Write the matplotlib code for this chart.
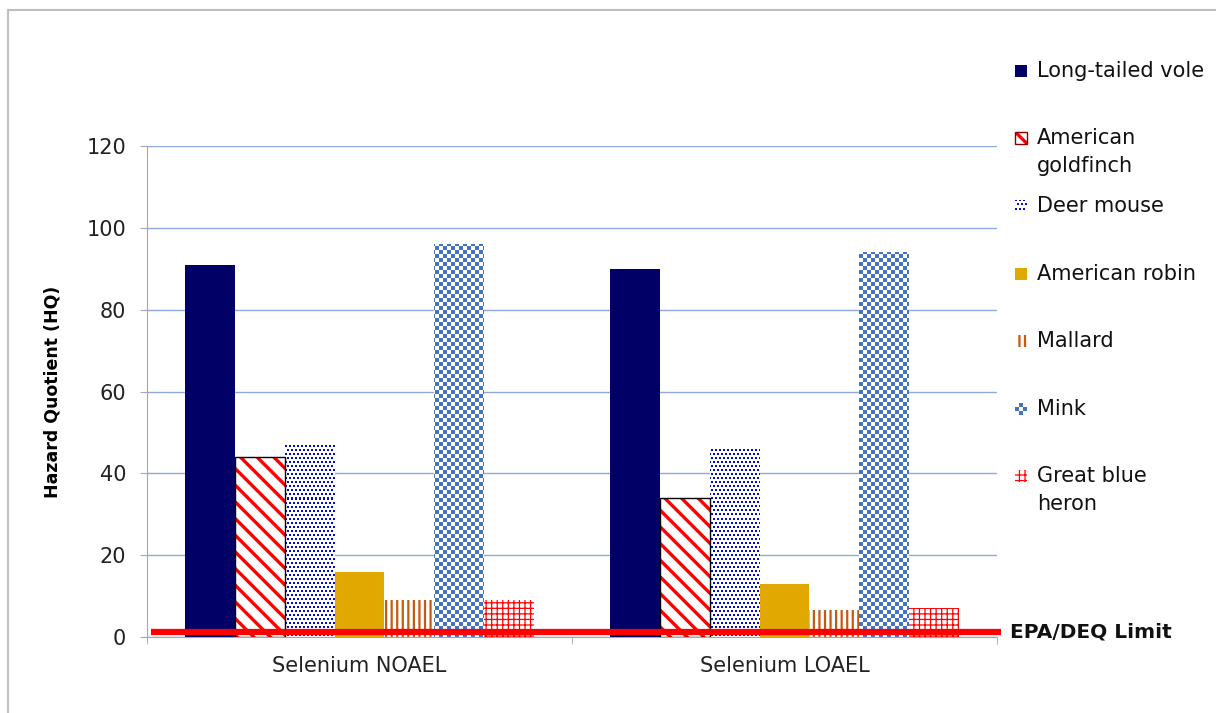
import numpy as np
import matplotlib
matplotlib.use("Agg")
import matplotlib.pyplot as plt
from matplotlib.patches import Rectangle
from matplotlib.colors import ListedColormap

# hazard quotients per receptor, for the two selenium benchmarks
groups = ["Selenium NOAEL", "Selenium LOAEL"]
species = ["Long-tailed vole", "American\ngoldfinch", "Deer mouse", "American robin",
           "Mallard", "Mink", "Great blue\nheron"]
vole = [91, 90]
goldfinch = [44, 34]
deer_mouse = [47, 46]
robin = [16, 13]
mallard = [9, 6.6]
mink = [96, 94]
heron = [9, 7]
epa_limit = 1.3

series = [vole, goldfinch, deer_mouse, robin, mallard, mink, heron]

# (face, hatch, hatch colour, hatch linewidth, outline); None hatch + "img" uses a bitmap fill
styles = [
    dict(fc="#000066", hatch=None, hc=None, lw=0, edge=None, img=None),
    dict(fc="white", hatch="\\\\", hc="#FF0000", lw=2.4, edge="black", img=None),
    dict(fc="white", hatch=None, hc=None, lw=0, edge=None, img="dots"),
    dict(fc="#E0A800", hatch=None, hc=None, lw=0, edge=None, img=None),
    dict(fc="white", hatch="|||", hc="#C55A11", lw=1.6, edge=None, img=None),
    dict(fc="white", hatch=None, hc=None, lw=0, edge=None, img="checker"),
    dict(fc="white", hatch="+++", hc="#FF0000", lw=0.9, edge=None, img=None),
]

plt.rcParams["font.family"] = ["DejaVu Sans"]

fig = plt.figure(figsize=(12.16, 7.13), dpi=100)
ax = fig.add_axes([147 / 1216, 1 - 637 / 713, 850 / 1216, 491 / 713])

x = np.arange(len(groups))
width = 0.1176
offsets = (np.arange(len(series)) - (len(series) - 1) / 2) * width

# bitmap fills, one array cell per screen pixel of the axes
rows, cols = 491, 850
r = np.arange(rows)[:, None]
c = np.arange(cols)[None, :]
checker = (((r // 4) + (c // 4)) % 2).astype(float)
shift = np.where((r // 4) % 2 == 0, 0, 2)
dots = (((r % 4) < 2) & (((c + shift) % 4) < 2)).astype(float)
fills = {
    "checker": (checker, ListedColormap(["white", "#4472C4"])),
    "dots": (dots, ListedColormap(["white", "#0010C8"])),
}

for i, (vals, st) in enumerate(zip(series, styles)):
    if st["hatch"]:
        with plt.rc_context({"hatch.linewidth": st["lw"]}):
            bars = ax.bar(x + offsets[i], vals, width, color=st["fc"], hatch=st["hatch"],
                          edgecolor=st["hc"], linewidth=0, zorder=3)
    else:
        bars = ax.bar(x + offsets[i], vals, width, color=st["fc"], linewidth=0, zorder=3)
    if st["edge"]:
        ax.bar(x + offsets[i], vals, width, fill=False, edgecolor=st["edge"],
               linewidth=1.0, zorder=4)
    if st["img"]:
        arr, cmap = fills[st["img"]]
        for b in bars:
            im = ax.imshow(arr, cmap=cmap, extent=(-0.5, 1.5, 0, 120), vmin=0, vmax=1,
                           aspect="auto", interpolation="nearest", zorder=3.5)
            im.set_clip_path(b)

# regulatory limit line
ax.plot([-0.49, 1.51], [epa_limit, epa_limit], color="#FF0000", lw=4.5,
        solid_capstyle="butt", clip_on=False, zorder=6)
ax.text(1.53, epa_limit, "EPA/DEQ Limit", fontsize=14.5, fontweight="bold",
        va="center", ha="left", color="#111111")

ax.set_xlim(-0.5, 1.5)
ax.set_ylim(0, 120)
ax.set_yticks(range(0, 121, 20))
ax.tick_params(axis="y", labelsize=15, length=5, color="#A6A6A6", pad=10,
               labelcolor="#222222")
ax.set_xticks(x)
ax.set_xticklabels(groups)
ax.tick_params(axis="x", which="major", length=0, labelsize=15, pad=14,
               labelcolor="#222222")
ax.set_xticks([-0.5, 0.5, 1.5], minor=True)
ax.tick_params(axis="x", which="minor", length=5, color="#A6A6A6")

ax.grid(axis="y", color="#8EA9DB", lw=1.0, zorder=0)
ax.set_axisbelow(True)
for side in ["top", "right"]:
    ax.spines[side].set_visible(False)
for side in ["left", "bottom"]:
    ax.spines[side].set_color("#A6A6A6")

ax.set_ylabel("Hazard Quotient (HQ)", fontsize=12.5, fontweight="bold")
ax.yaxis.set_label_coords(-0.10, 0.5)

# legend built by hand so each swatch sits next to the first text line
W, H = 1216.0, 713.0
leg_y = [71, 138, 206, 274, 341, 409, 476]
sq = 12
for (label, st, yy) in zip(species, styles, leg_y):
    yc = 1 - yy / H
    box = (1015 / W, yc - sq / 2 / H)
    kw = dict(transform=fig.transFigure, zorder=5)
    if st["img"]:
        arr, cmap = fills[st["img"]]
        sw = fig.add_axes([box[0], box[1], sq / W, sq / H])
        sw.imshow(arr[:sq, :sq], cmap=cmap, vmin=0, vmax=1, interpolation="nearest",
                  aspect="auto")
        sw.axis("off")
    elif st["hatch"]:
        with plt.rc_context({"hatch.linewidth": st["lw"]}):
            fig.add_artist(Rectangle(box, sq / W, sq / H, facecolor=st["fc"],
                                     hatch=st["hatch"], edgecolor=st["hc"],
                                     linewidth=0, **kw))
        if st["edge"]:
            fig.add_artist(Rectangle(box, sq / W, sq / H, fill=False,
                                     edgecolor="#8B0000", linewidth=1.0, **kw))
    else:
        fig.add_artist(Rectangle(box, sq / W, sq / H, facecolor=st["fc"], linewidth=0, **kw))
    fig.text(1037 / W, yc + 10 / H, label, fontsize=15, va="top", ha="left",
             linespacing=1.5, color="#111111")

# chart area border
fig.add_artist(Rectangle((8 / W, -0.1), 1.2, 1.1 - 10 / H, fill=False,
                         edgecolor="#BFBFBF", linewidth=1.5, transform=fig.transFigure))

fig.savefig("out.png", dpi=100)
